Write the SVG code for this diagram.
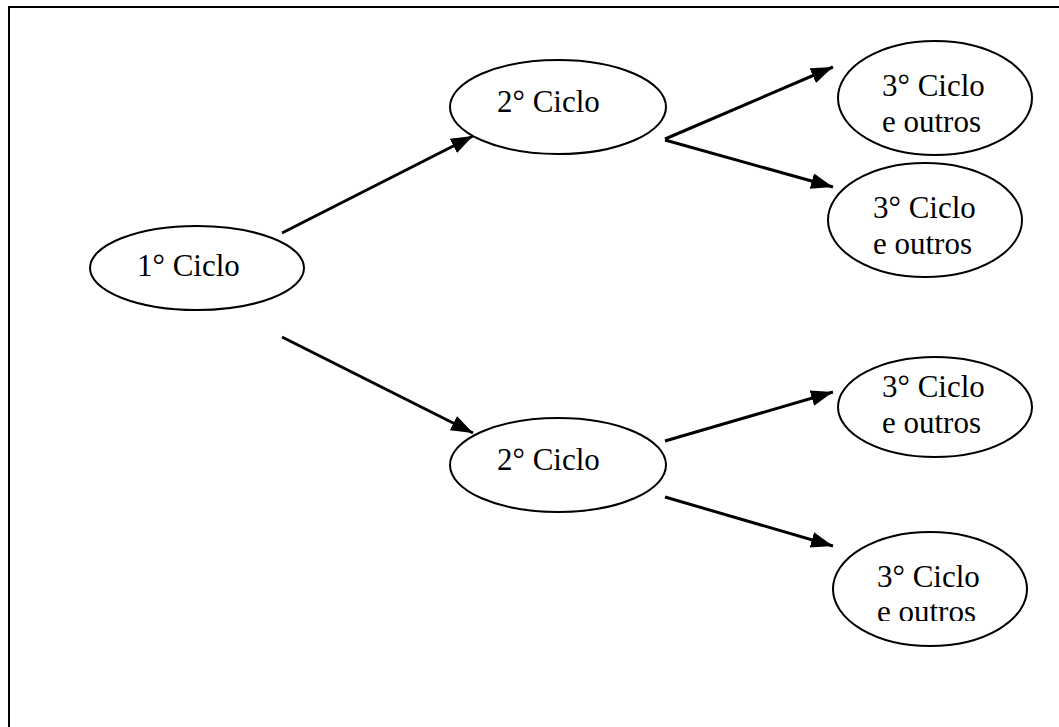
<svg xmlns="http://www.w3.org/2000/svg" width="1059" height="727" viewBox="0 0 1059 727">
<style>
.n{fill:#fff;stroke:#000;stroke-width:2}
text{font-family:'Liberation Serif','DejaVu Serif',serif;font-size:31px;fill:#000}
.c{stroke:#000;stroke-width:3;fill:none;marker-end:url(#ah)}
</style>
<defs>
<marker id="ah" markerUnits="userSpaceOnUse" markerWidth="24" markerHeight="18" refX="22" refY="8" orient="auto">
<path d="M0,0 L22,8 L0,16 Z" fill="#000"/>
</marker>
<clipPath id="clip4"><rect x="800" y="520" width="250" height="101"/></clipPath>
</defs>
<rect width="1059" height="727" fill="#fff"/>
<rect x="9" y="7" width="1100" height="800" fill="none" stroke="#000" stroke-width="2"/>
<g id="connectors">
<line class="c" x1="282" y1="233" x2="473" y2="136"/>
<line class="c" x1="282" y1="337" x2="473" y2="433"/>
<line class="c" x1="665" y1="139" x2="833" y2="67"/>
<line class="c" x1="665" y1="140" x2="833" y2="187"/>
<line class="c" x1="665" y1="441" x2="833" y2="392"/>
<line class="c" x1="665" y1="497" x2="833" y2="546"/>
</g>
<g id="n1">
<ellipse class="n" cx="197" cy="268" rx="107" ry="42"/>
<text x="137" y="276" font-family="Liberation Serif, serif">1° Ciclo</text>
</g>
<g id="n2a">
<ellipse class="n" cx="558" cy="107" rx="108" ry="47"/>
<text x="497" y="112" font-family="Liberation Serif, serif">2° Ciclo</text>
</g>
<g id="n2b">
<ellipse class="n" cx="558" cy="465" rx="108" ry="47"/>
<text x="497" y="470" font-family="Liberation Serif, serif">2° Ciclo</text>
</g>
<g id="n3a">
<ellipse class="n" cx="935" cy="98" rx="97" ry="57"/>
<text x="882" y="96" font-family="Liberation Serif, serif">3° Ciclo</text>
<text x="882" y="132" font-family="Liberation Serif, serif">e outros</text>
</g>
<g id="n3b">
<ellipse class="n" cx="925" cy="220" rx="97" ry="57"/>
<text x="873" y="218" font-family="Liberation Serif, serif">3° Ciclo</text>
<text x="873" y="254" font-family="Liberation Serif, serif">e outros</text>
</g>
<g id="n3c">
<ellipse class="n" cx="935" cy="407" rx="97" ry="50"/>
<text x="882" y="397" font-family="Liberation Serif, serif">3° Ciclo</text>
<text x="882" y="433" font-family="Liberation Serif, serif">e outros</text>
</g>
<g id="n3d">
<ellipse class="n" cx="930" cy="589" rx="97" ry="57"/>
<text x="877" y="587" font-family="Liberation Serif, serif">3° Ciclo</text>
<text x="877" y="622" clip-path="url(#clip4)" font-family="Liberation Serif, serif">e outros</text>
</g>
</svg>
